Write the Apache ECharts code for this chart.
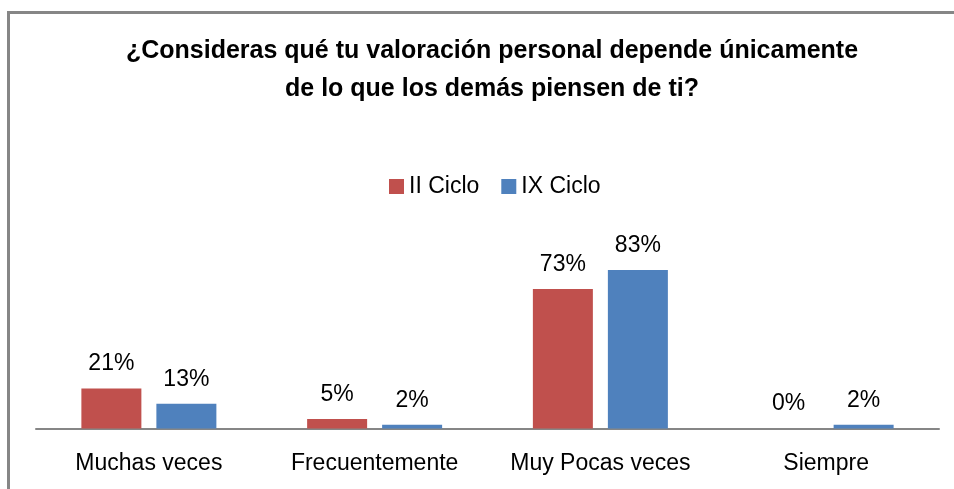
<!DOCTYPE html>
<html>
<head>
<meta charset="utf-8">
<script src="https://cdn.jsdelivr.net/npm/echarts@6/dist/echarts.min.js"></script>
<style>
  html, body { margin: 0; padding: 0; background: #fff; }
  #chart { width: 954px; height: 489px; }
</style>
</head>
<body>
<div id="chart"></div>
<script>
// data
var categories = ["Muchas veces", "Frecuentemente", "Muy Pocas veces", "Siempre"];
var seriesNames = ["II Ciclo", "IX Ciclo"];
var cicloII = [21, 5, 73, 0];
var cicloIX = [13, 2, 83, 2];

var FONT = "'Liberation Sans', Arial, sans-serif";

var myChart = echarts.init(document.getElementById("chart"));
var option = {
  animation: false,
  color: ["#C0504D", "#4F81BD"],
  textStyle: { fontFamily: FONT },
  title: {
    text: "¿Consideras qué tu valoración personal depende únicamente\nde lo que los demás piensen de ti?",
    left: 487,
    top: 27,
    textAlign: "center",
    textStyle: { fontFamily: FONT, fontSize: 25, fontWeight: "bold", color: "#000", lineHeight: 38 },
  },
  legend: {
    data: seriesNames,
    left: 384,
    top: 170,
    itemWidth: 15,
    itemHeight: 15,
    itemGap: 22,
    icon: "rect",
    textStyle: { fontFamily: FONT, fontSize: 23, color: "#000" },
  },
  grid: { left: 36, right: 15, top: 237.5, bottom: 60.5 },
  xAxis: {
    type: "category",
    data: categories,
    axisLine: { lineStyle: { color: "#868686", width: 2 } },
    axisTick: { show: false },
    axisLabel: { interval: 0, fontFamily: FONT, fontSize: 23, color: "#000", margin: 24 },
  },
  yAxis: {
    type: "value",
    min: 0,
    max: 100,
    show: false,
    splitLine: { show: false },
  },
  series: [
    {
      name: seriesNames[0],
      type: "bar",
      data: cicloII,
      barWidth: 60,
      barGap: "25%",
      label: { show: true, position: "top", distance: 13, formatter: "{c}%", fontFamily: FONT, fontSize: 23, color: "#000" },
    },
    {
      name: seriesNames[1],
      type: "bar",
      data: cicloIX,
      barWidth: 60,
      label: { show: true, position: "top", distance: 13, formatter: "{c}%", fontFamily: FONT, fontSize: 23, color: "#000" },
    },
  ],
  graphic: [
    {
      type: "rect",
      shape: { x: 8.5, y: 12.5, width: 980, height: 520 },
      style: { fill: "none", stroke: "#868686", lineWidth: 3 },
      silent: true,
    },
  ],
};
myChart.setOption(option);
</script>
</body>
</html>
